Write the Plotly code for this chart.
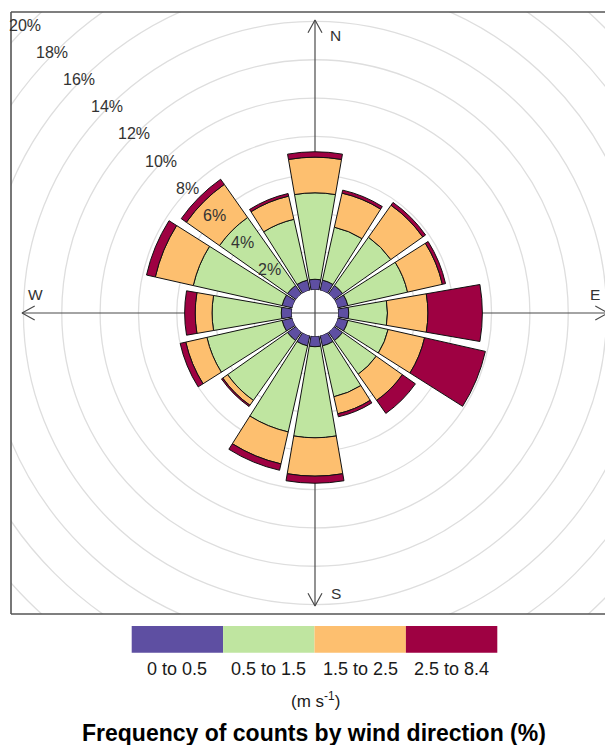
import math
import plotly.graph_objects as go

# ---- data: frequency (%) of counts by wind direction, split by wind speed ----
directions = ["N", "NNE", "NE", "ENE", "E", "ESE", "SE", "SSE",
              "S", "SSW", "SW", "WSW", "W", "WNW", "NW", "NNW"]
bearings = [0, 22.5, 45, 67.5, 90, 112.5, 135, 157.5,
            180, 202.5, 225, 247.5, 270, 292.5, 315, 337.5]

speed_bins = ["0 to 0.5", "0.5 to 1.5", "1.5 to 2.5", "2.5 to 8.4"]
freq_0_to_0_5 = [0.55, 0.55, 0.55, 0.55, 0.55, 0.55, 0.55, 0.55,
                 0.55, 0.55, 0.55, 0.55, 0.55, 0.55, 0.55, 0.55]
freq_0_5_to_1_5 = [4.51, 2.83, 3.08, 3.19, 2.02, 2.15, 2.15, 2.72,
                   4.75, 4.60, 3.82, 4.02, 3.61, 4.75, 4.34, 3.25]
freq_1_5_to_2_5 = [1.86, 1.82, 2.04, 1.86, 2.11, 1.95, 1.67, 0.91,
                   2.00, 1.71, 0.31, 1.13, 0.88, 2.03, 2.11, 1.24]
freq_2_5_to_8_4 = [0.28, 0.16, 0.18, 0.17, 2.84, 3.25, 0.83, 0.16,
                   0.37, 0.34, 0.08, 0.30, 0.55, 0.47, 0.33, 0.14]
bin_colours = ["#5E4FA2", "#BFE5A0", "#FDBF6F", "#9E0142"]

grid_pcts = [2, 4, 6, 8, 10, 12, 14, 16, 18, 20]
compass = ["N", "E", "S", "W"]
unit_label = "(m s<sup>-1</sup>)"
title_text = "Frequency of counts by wind direction (%)"

# ---- geometry of the page ----
W, H = 605, 745
M_L, M_R, M_T, M_B = 11, 0, 12, 131
PLOT_W, PLOT_H = W - M_L - M_R, H - M_T - M_B
CX, CY = 315, 313          # centre of the rose (pixels)
PX = 19.17                 # pixels per 1 %
HOLE = 1.21                # radius of the empty centre, in % units
R_MAX = 9.0                # outer radial limit of the polar bars
FONT = "Liberation Sans, Arial, Helvetica, sans-serif"

x_range = [-(CX - M_L) / PX, (W - M_R - CX) / PX]
y_range = [-(M_T + PLOT_H - CY) / PX, (CY - M_T) / PX]


def px_to_paper_x(px):
    return (px - M_L) / PLOT_W


def px_to_paper_y(py):
    return (M_T + PLOT_H - py) / PLOT_H


fig = go.Figure()

# axis cross with open arrow heads (cartesian, drawn below the bars)
tip = 293 / PX
hw, hl = 7 / PX, 12.7 / PX
ax_x = [-tip, tip, None, 0, 0, None,
        -hl + tip, tip, -hl + tip, None,   # E head
        hl - tip, -tip, hl - tip, None,    # W head
        -hw, 0, hw, None,                  # N head
        -hw, 0, hw]                        # S head
ax_y = [0, 0, None, -tip, tip, None,
        hw, 0, -hw, None,
        hw, 0, -hw, None,
        tip - hl, tip, tip - hl, None,
        -tip + hl, -tip, -tip + hl]
fig.add_trace(go.Scatter(x=ax_x, y=ax_y, mode="lines",
                         line=dict(color="#4a4a4a", width=1.2),
                         hoverinfo="skip", showlegend=False,
                         cliponaxis=True))

# stacked wind-rose bars
for name, vals, col in zip(speed_bins,
                           [freq_0_to_0_5, freq_0_5_to_1_5,
                            freq_1_5_to_2_5, freq_2_5_to_8_4],
                           bin_colours):
    fig.add_trace(go.Barpolar(
        r=vals, theta=bearings, width=[19.6] * len(bearings), name=name,
        marker=dict(color=col, line=dict(color="#111111", width=1)),
        showlegend=False, hovertemplate="%{theta}°: %{r:.2f}%<extra>" + name + "</extra>",
    ))

# grid circles, clipped to the plotting frame
shapes = []
for p in grid_pcts:
    r = HOLE + p
    shapes.append(dict(type="circle", xref="x", yref="y", x0=-r, x1=r, y0=-r, y1=r,
                       line=dict(color="#dedede", width=1.3), layer="below"))

# frame (left, top, bottom)
frame = dict(color="#555555", width=1.6)
shapes += [
    dict(type="line", xref="paper", yref="paper", x0=0, x1=0, y0=0, y1=1, line=frame),
    dict(type="line", xref="paper", yref="paper", x0=0, x1=1, y0=1, y1=1, line=frame),
    dict(type="line", xref="paper", yref="paper", x0=0, x1=1, y0=0, y1=0, line=frame),
]

# colour key below the rose
key_x0, key_w = 131.7, 91.4
key_y0, key_y1 = 626, 652.7
for i, col in enumerate(bin_colours):
    shapes.append(dict(type="rect", xref="paper", yref="paper",
                       x0=px_to_paper_x(key_x0 + i * key_w),
                       x1=px_to_paper_x(key_x0 + (i + 1) * key_w),
                       y0=px_to_paper_y(key_y1), y1=px_to_paper_y(key_y0),
                       fillcolor=col, line=dict(width=0), layer="above"))

annotations = []
# percentage labels along the NW diagonal
for p in grid_pcts:
    r = HOLE + p
    annotations.append(dict(x=-r / math.sqrt(2) - 0.12, y=r / math.sqrt(2), xref="x", yref="y",
                            text=f"{p}%", showarrow=False,
                            font=dict(family=FONT, size=16, color="#333333"),
                            xanchor="center", yanchor="middle"))

# compass labels
comp_pos = {"N": (20.5, 277.5), "E": (279.5, 19), "S": (21, -280), "W": (-279.5, 19)}
for c in compass:
    dx, dy = comp_pos[c]
    annotations.append(dict(x=dx / PX, y=dy / PX, xref="x", yref="y", text=c,
                            showarrow=False, xanchor="center", yanchor="middle",
                            font=dict(family=FONT, size=15.5, color="#333333")))

# key labels, unit and title
for i, lab in enumerate(speed_bins):
    annotations.append(dict(x=px_to_paper_x(key_x0 + (i + 0.5) * key_w), y=px_to_paper_y(669),
                            xref="paper", yref="paper", text=lab, showarrow=False,
                            xanchor="center", yanchor="middle",
                            font=dict(family=FONT, size=18, color="#1a1a1a")))
annotations.append(dict(x=px_to_paper_x(315), y=px_to_paper_y(700), xref="paper", yref="paper",
                        text=unit_label, showarrow=False, xanchor="center", yanchor="middle",
                        font=dict(family=FONT, size=17, color="#1a1a1a")))
annotations.append(dict(x=px_to_paper_x(314), y=px_to_paper_y(733), xref="paper", yref="paper",
                        text=f"<b>{title_text}</b>", showarrow=False,
                        xanchor="center", yanchor="middle",
                        font=dict(family=FONT, size=23, color="#000000")))

outer_px = (HOLE + R_MAX) * PX
fig.update_layout(
    width=W, height=H,
    margin=dict(l=M_L, r=M_R, t=M_T, b=M_B, pad=0),
    paper_bgcolor="white", plot_bgcolor="white",
    xaxis=dict(range=x_range, visible=False, fixedrange=True),
    yaxis=dict(range=y_range, visible=False, fixedrange=True),
    polar=dict(
        domain=dict(x=[px_to_paper_x(CX - outer_px), px_to_paper_x(CX + outer_px)],
                    y=[px_to_paper_y(CY + outer_px), px_to_paper_y(CY - outer_px)]),
        bgcolor="rgba(0,0,0,0)",
        hole=HOLE / (HOLE + R_MAX),
        barmode="stack",
        radialaxis=dict(range=[0, R_MAX], visible=False, showgrid=False, showline=False),
        angularaxis=dict(rotation=90, direction="clockwise", visible=False,
                         showgrid=False, showline=False, showticklabels=False, ticks=""),
    ),
    shapes=shapes,
    annotations=annotations,
    showlegend=False,
)

fig.write_html("out.html")
